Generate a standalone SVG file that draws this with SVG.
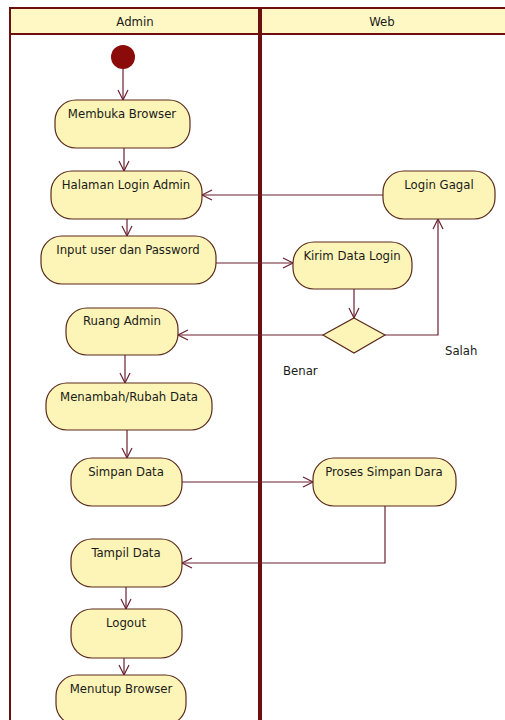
<svg xmlns="http://www.w3.org/2000/svg" width="505" height="720" viewBox="0 0 505 720">
<defs>
<style>
.lane{fill:none;stroke:#6e0f0f;stroke-width:2}
.hdr{fill:#fff8c4;stroke:#6e0f0f;stroke-width:2}
.node{fill:#fdf5b7;stroke:#5a2a1a;stroke-width:1.2}
.t{font-family:Tahoma,"DejaVu Sans Condensed","Liberation Sans",sans-serif;font-size:13px;fill:#1a1a1a;text-anchor:middle}
.lbl{font-family:Tahoma,"DejaVu Sans Condensed","Liberation Sans",sans-serif;font-size:13px;fill:#1a1a1a}
.c{fill:none;stroke:#6b2030;stroke-width:1.2}
</style>
<marker id="a" markerUnits="userSpaceOnUse" markerWidth="14" markerHeight="14" viewBox="-12 -7 14 14" refX="0" refY="0" orient="auto">
<path d="M-10,-5 L0,0 L-10,5" fill="none" stroke="#6b2030" stroke-width="1.2"/>
</marker>
</defs>
<rect width="505" height="720" fill="#ffffff"/>
<g id="lanes">
<rect class="hdr" x="10" y="8" width="500" height="26"/>
<line class="lane" x1="10" y1="8" x2="10" y2="720"/>
<line x1="260" y1="8" x2="260" y2="720" stroke="#6e0f0f" stroke-width="4"/>
<text class="t" x="135" y="26">Admin</text>
<text class="t" x="382" y="26">Web</text>
</g>
<g id="connectors">
<line class="c" x1="123" y1="68" x2="123" y2="100" marker-end="url(#a)"/>
<line class="c" x1="124" y1="148" x2="124" y2="171" marker-end="url(#a)"/>
<line class="c" x1="383" y1="195" x2="202" y2="195" marker-end="url(#a)"/>
<line class="c" x1="127" y1="219" x2="127" y2="236" marker-end="url(#a)"/>
<line class="c" x1="216" y1="263" x2="293" y2="263" marker-end="url(#a)"/>
<line class="c" x1="354" y1="289" x2="354" y2="318" marker-end="url(#a)"/>
<polyline class="c" points="385,335 438,335 438,219" marker-end="url(#a)"/>
<line class="c" x1="323" y1="335" x2="178" y2="335" marker-end="url(#a)"/>
<line class="c" x1="125" y1="355" x2="125" y2="383" marker-end="url(#a)"/>
<line class="c" x1="127" y1="430" x2="127" y2="458" marker-end="url(#a)"/>
<line class="c" x1="182" y1="482" x2="313" y2="482" marker-end="url(#a)"/>
<polyline class="c" points="385,506 385,563 182,563" marker-end="url(#a)"/>
<line class="c" x1="126" y1="587" x2="126" y2="609" marker-end="url(#a)"/>
<line class="c" x1="124" y1="658" x2="124" y2="675" marker-end="url(#a)"/>
<text class="lbl" x="445" y="355">Salah</text>
<text class="lbl" x="283" y="375">Benar</text>
</g>
<g id="start"><circle cx="123" cy="57" r="12" fill="#8b0a0a"/></g>
<g id="membuka"><rect class="node" x="55" y="100" width="135" height="48" rx="21"/><text class="t" x="122" y="118">Membuka Browser</text></g>
<g id="halaman"><rect class="node" x="51" y="171" width="151" height="48" rx="21"/><text class="t" x="126" y="189">Halaman Login Admin</text></g>
<g id="gagal"><rect class="node" x="383" y="171" width="112" height="48" rx="21"/><text class="t" x="439" y="189">Login Gagal</text></g>
<g id="input"><rect class="node" x="41" y="236" width="175" height="48" rx="21"/><text class="t" x="128" y="254">Input user dan Password</text></g>
<g id="kirim"><rect class="node" x="293" y="242" width="119" height="47" rx="21"/><text class="t" x="352" y="260">Kirim Data Login</text></g>
<g id="decision"><polygon class="node" points="354,318 385,335 354,353 323,335"/></g>
<g id="ruang"><rect class="node" x="66" y="308" width="112" height="47" rx="21"/><text class="t" x="122" y="325">Ruang Admin</text></g>
<g id="menambah"><rect class="node" x="46" y="383" width="166" height="47" rx="21"/><text class="t" x="129" y="401">Menambah/Rubah Data</text></g>
<g id="simpan"><rect class="node" x="71" y="458" width="111" height="48" rx="21"/><text class="t" x="126" y="476">Simpan Data</text></g>
<g id="proses"><rect class="node" x="313" y="458" width="143" height="48" rx="21"/><text class="t" x="384" y="476">Proses Simpan Dara</text></g>
<g id="tampil"><rect class="node" x="71" y="539" width="111" height="48" rx="21"/><text class="t" x="126" y="557">Tampil Data</text></g>
<g id="logout"><rect class="node" x="71" y="609" width="111" height="49" rx="21"/><text class="t" x="126" y="627">Logout</text></g>
<g id="menutup"><rect class="node" x="56" y="675" width="130" height="50" rx="21"/><text class="t" x="121" y="693">Menutup Browser</text></g>
</svg>
